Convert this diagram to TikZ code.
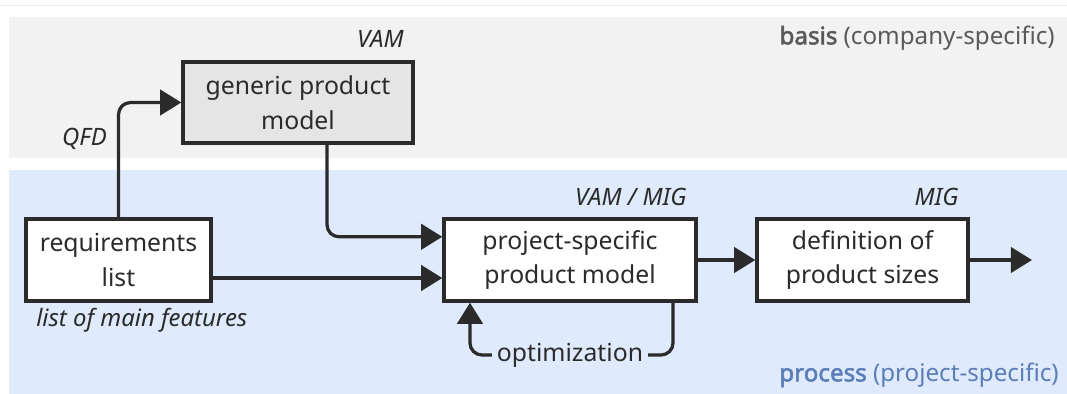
\documentclass[tikz,border=0pt]{standalone}
\usepackage{fontspec}
\setmainfont{Noto Sans}[AutoFakeBold=2.2]
\usetikzlibrary{arrows.meta}

\definecolor{basisgray}{HTML}{F2F2F2}
\definecolor{procblue}{HTML}{DFEAFC}
\definecolor{ink}{HTML}{2B2B2B}
\definecolor{basistext}{HTML}{5A5A5A}
\definecolor{proctext}{HTML}{5B7DB8}

\begin{document}
\begin{tikzpicture}[x=0.025cm, y=-0.025cm,
  box/.style={draw=ink, line width=2.4pt, fill=white, inner sep=0pt, minimum height=2.05cm,
    align=center, text=ink, font=\fontsize{17.6}{24.5}\selectfont},
  flow/.style={draw=ink, line width=2.3pt, rounded corners=0.3cm, -{Triangle[length=15pt, width=18pt]}},
  tool/.style={inner sep=0pt, text=ink, font=\fontsize{17}{20}\selectfont\itshape},
  area/.style={inner sep=0pt, font=\fontsize{17.2}{20}\selectfont}]
\useasboundingbox (0,0) rectangle (1067,394);

% Bands
\draw[gray!15, line width=0.7pt] (0,5) -- (1067,5);
\fill[basisgray] (9,17) rectangle (1067,158);
\fill[procblue] (9,170) rectangle (1067,394);
\node[area, anchor=east, text=basistext] (basis) at (1055,38) {\textbf{basis} (company-specific)};
\node[area, anchor=east, text=proctext] (process) at (1059,375) {\textbf{process} (project-specific)};

% Boxes
\node[box, fill=gray!20, minimum width=5.75cm, minimum height=2.02cm] (gen) at (298,102.5) {generic product\\model};
\node[box, minimum width=4.625cm] (req) at (118.5,260) {requirements\\list};
\node[box, minimum width=6.3cm] (proj) at (570,260) {project-specific\\product model};
\node[box, minimum width=5.275cm] (def) at (862.5,260) {definition of\\product sizes};
\coordinate (out) at (1032,260);

% Methods
\node[tool, anchor=base east] (vam) at ([xshift=-0.27cm, yshift=0.33cm]gen.north east) {VAM};
\node[tool, anchor=base east] (vammig) at ([xshift=-0.27cm, yshift=0.3cm]proj.north east) {VAM / MIG};
\node[tool, anchor=base east] (mig) at ([xshift=-0.27cm, yshift=0.3cm]def.north east) {MIG};
\node[tool, anchor=base east] (qfd) at (107,146) {QFD};
\node[tool, anchor=base west] (feat) at (36,326) {list of main features};

% Flows
\draw[flow] (req.north) |- (gen.west);
\draw[flow] ([xshift=0.725cm]gen.south) |- ([yshift=0.58cm]proj.west);
\draw[flow] ([yshift=-0.45cm]req.east) -- ([yshift=-0.45cm]proj.west);
\draw[flow] (proj) -- (def);
\draw[flow] (def) -- (out);

% Optimization loop
\node[inner sep=0.12cm, text=ink, font=\fontsize{17.6}{20}\selectfont] (opt) at (570,355) {optimization};
\draw[flow, -] ([xshift=2.575cm]proj.south) |- (opt.east);
\draw[flow] (opt.west) -| ([xshift=-2.5cm]proj.south);

\end{tikzpicture}
\end{document}
